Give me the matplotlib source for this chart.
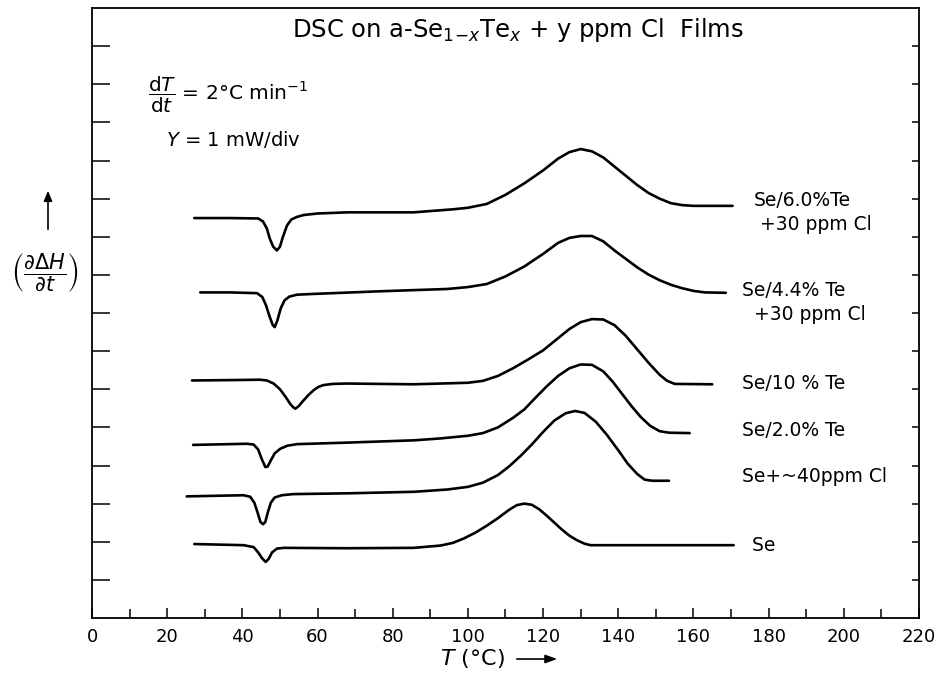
import matplotlib
matplotlib.use("Agg")
import matplotlib.pyplot as plt
from matplotlib.ticker import MultipleLocator
from matplotlib.patches import FancyArrowPatch

# ---- data (T in degC, signal in divisions, 1 div = 1 mW) ----
T_se6 = [27.2, 36.8, 44.2, 45.5, 46.5, 47.3, 48.2, 49.2, 50.0, 50.8, 51.9, 53.0, 54.5, 56.3, 60.0, 67.9,
         85.5, 96.1, 100.0, 105.0, 110.0, 115.0, 120.0, 124.0, 127.0, 130.0, 133.0, 136.0, 139.0, 142.0,
         145.0, 148.0, 151.0, 154.0, 157.0, 160.0, 170.4]
Y_se6 = [10.49, 10.49, 10.48, 10.40, 10.22, 9.95, 9.74, 9.64, 9.74, 10.00, 10.30, 10.45, 10.52, 10.57, 10.61, 10.64,
         10.64, 10.72, 10.76, 10.86, 11.10, 11.40, 11.74, 12.05, 12.22, 12.30, 12.24, 12.08, 11.84, 11.60,
         11.36, 11.15, 11.00, 10.88, 10.83, 10.81, 10.81]

T_se44 = [28.8, 36.8, 43.9, 45.3, 46.3, 47.2, 48.1, 48.6, 49.3, 50.2, 51.2, 52.5, 54.5, 58.9, 76.7, 94.5,
          100.0, 105.0, 110.0, 115.0, 120.0, 124.0, 127.0, 130.0, 133.0, 136.0, 139.0, 142.0, 145.0, 148.0,
          151.0, 154.0, 157.0, 160.0, 163.0, 168.6]
Y_se44 = [8.54, 8.54, 8.52, 8.42, 8.20, 7.92, 7.68, 7.63, 7.80, 8.12, 8.33, 8.43, 8.48, 8.50, 8.57, 8.63,
          8.68, 8.76, 8.96, 9.22, 9.55, 9.84, 9.97, 10.02, 10.02, 9.88, 9.64, 9.42, 9.20, 9.01,
          8.86, 8.74, 8.65, 8.58, 8.54, 8.53]

T_se10 = [26.6, 36.8, 44.7, 46.5, 48.3, 50.0, 51.5, 52.7, 53.5, 54.1, 55.0, 56.3, 57.6, 58.9, 60.2, 61.6,
          64.0, 67.8, 85.6, 100.0, 104.0, 108.0, 112.0, 116.0, 120.0, 124.0, 127.0, 130.0, 133.0, 136.0,
          139.0, 142.0, 145.0, 148.0, 151.0, 153.0, 155.0, 165.0]
Y_se10 = [6.23, 6.24, 6.25, 6.23, 6.15, 6.00, 5.80, 5.62, 5.53, 5.49, 5.56, 5.71, 5.85, 5.97, 6.06, 6.11,
          6.14, 6.15, 6.13, 6.17, 6.22, 6.35, 6.55, 6.78, 7.02, 7.34, 7.58, 7.76, 7.84, 7.83,
          7.68, 7.40, 7.05, 6.70, 6.38, 6.22, 6.14, 6.13]

T_se2 = [26.9, 41.2, 43.0, 44.2, 45.2, 46.1, 46.7, 47.5, 48.6, 50.1, 52.0, 54.5, 67.8, 85.6, 92.7,
         100.0, 104.0, 108.0, 112.0, 115.0, 118.0, 121.0, 124.0, 127.0, 130.0, 133.0, 136.0, 138.5,
         141.0, 143.5, 146.0, 148.5, 151.0, 153.5, 159.0]
Y_se2 = [4.54, 4.57, 4.55, 4.42, 4.16, 3.96, 3.97, 4.12, 4.32, 4.44, 4.52, 4.56, 4.60, 4.66, 4.71,
         4.78, 4.85, 5.00, 5.25, 5.47, 5.78, 6.08, 6.35, 6.55, 6.65, 6.64, 6.47, 6.20,
         5.88, 5.56, 5.27, 5.04, 4.90, 4.86, 4.85]

T_secl = [25.2, 40.3, 42.1, 43.2, 44.1, 44.8, 45.5, 46.1, 46.8, 47.6, 48.6, 50.5, 53.6, 67.8, 85.6, 94.5,
          100.0, 104.0, 108.0, 111.0, 114.0, 117.0, 120.0, 123.0, 126.0, 128.5, 131.0, 134.0, 137.0,
          140.0, 142.5, 145.0, 147.0, 149.0, 153.5]
Y_secl = [3.19, 3.22, 3.18, 3.02, 2.75, 2.52, 2.46, 2.52, 2.78, 3.03, 3.16, 3.22, 3.25, 3.27, 3.31, 3.37,
          3.44, 3.55, 3.75, 3.98, 4.25, 4.55, 4.88, 5.18, 5.37, 5.43, 5.38, 5.15, 4.80,
          4.40, 4.05, 3.78, 3.63, 3.60, 3.60]

T_se = [27.2, 40.3, 43.0, 44.2, 45.3, 46.2, 47.0, 47.9, 49.2, 51.0, 67.8, 85.6, 92.7, 96.0, 99.0,
        102.0, 105.0, 108.0, 111.0, 113.0, 115.0, 117.0, 119.0, 121.0, 123.0, 125.0, 127.0, 129.0,
        131.0, 132.6, 170.7]
Y_se = [1.94, 1.91, 1.86, 1.72, 1.56, 1.47, 1.55, 1.72, 1.82, 1.84, 1.83, 1.84, 1.90, 1.97, 2.09,
        2.24, 2.42, 2.62, 2.84, 2.96, 3.00, 2.97, 2.85, 2.68, 2.50, 2.32, 2.16, 2.04,
        1.95, 1.91, 1.91]

series = [(T_se6, Y_se6), (T_se44, Y_se44), (T_se10, Y_se10),
          (T_se2, Y_se2), (T_secl, Y_secl), (T_se, Y_se)]

labels = [["Se/6.0%Te", " +30 ppm Cl"], ["Se/4.4% Te", "  +30 ppm Cl"], ["Se/10 % Te"],
          ["Se/2.0% Te"], ["Se+~40ppm Cl"], [" Se"]]
label_T = [176, 173, 173, 173, 173, 174]
label_Y = [[10.95, 10.32], [8.6, 7.95], [6.15], [4.93], [3.7], [1.91]]

x_ticks = list(range(0, 221, 20))

# ---- figure ----
fig = plt.figure(figsize=(9.42, 6.77), dpi=100)
ax = fig.add_axes([92/942, 1-618/677, (919-92)/942, (618-8)/677])

for T, Y in series:
    ax.plot(T, Y, color="black", lw=1.9, solid_joinstyle="round", solid_capstyle="round")

ax.set_xlim(0, 220)
ax.set_ylim(0, 16)
ax.set_xticks(x_ticks)
ax.xaxis.set_minor_locator(MultipleLocator(10))
ax.set_yticks(range(1, 16))
ax.set_yticklabels([])
ax.tick_params(axis="x", which="major", direction="in", length=7, width=1.1,
               labelsize=13, pad=7, top=False)
ax.tick_params(axis="x", which="minor", direction="in", length=6.5, width=1.1, top=False)
ax.tick_params(axis="y", which="major", direction="in", length=13, width=1.1,
               left=True, right=False)
for s in ax.spines.values():
    s.set_linewidth(1.3)

ax2 = ax.twinx()
ax2.set_ylim(0, 16)
ax2.set_yticks(range(1, 16))
ax2.set_yticklabels([])
ax2.tick_params(axis="y", direction="in", length=5, width=1.1)
for s in ax2.spines.values():
    s.set_visible(False)

for lab, tx, ty in zip(labels, label_T, label_Y):
    for line, yy in zip(lab, ty):
        ax.text(tx, yy, line, fontsize=13.5, ha="left", va="center")

# title
fig.text(518/942, 1-30/677, r"DSC on a-Se$_{1\!-\!x}$Te$_{x}$ + y ppm Cl  Films",
         fontsize=17.5, ha="center", va="center")

# rate annotations
fig.text(148/942, 1-95/677, r"$\dfrac{\mathrm{d}T}{\mathrm{d}t}$ = 2°C min$^{-1}$",
         fontsize=14.5, ha="left", va="center")
fig.text(166/942, 1-140/677, r"$Y$ = 1 mW/div", fontsize=14, ha="left", va="center")

# y label with arrow
fig.text(45/942, 1-273/677, r"$\left(\dfrac{\partial\Delta H}{\partial t}\right)$",
         fontsize=15, ha="center", va="center")
fig.add_artist(FancyArrowPatch(
    (48/942, 1-232/677), (48/942, 1-188/677), transform=fig.transFigure,
    arrowstyle="-|>,head_length=6,head_width=2.5", color="black", lw=1.2))

# x label with arrow
fig.text(472/942, 1-659/677, r"$T$ (°C)", fontsize=16, ha="center", va="center")
fig.add_artist(FancyArrowPatch(
    (514/942, 1-659/677), (560/942, 1-659/677), transform=fig.transFigure,
    arrowstyle="-|>,head_length=7,head_width=2.5", color="black", lw=1.2))

fig.savefig("out.png", dpi=100)
